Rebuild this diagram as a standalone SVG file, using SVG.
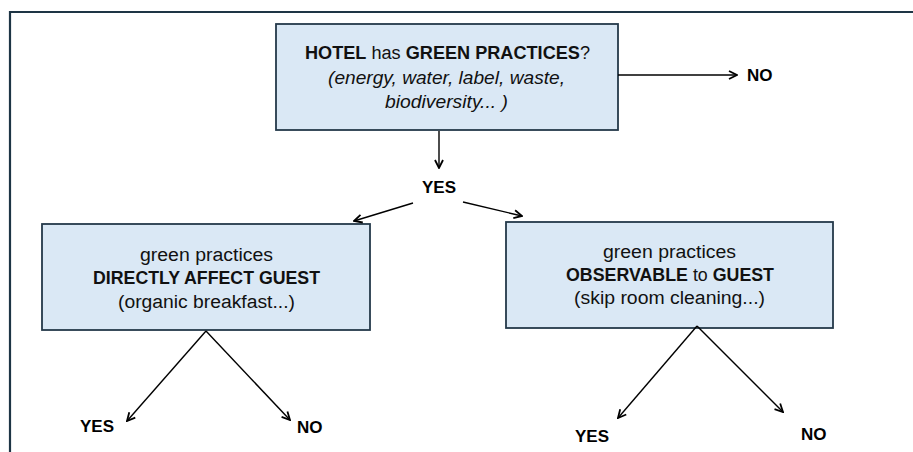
<svg xmlns="http://www.w3.org/2000/svg" width="913" height="452" viewBox="0 0 913 452">
<defs>
<marker id="ah" viewBox="0 0 10 10" refX="9" refY="5" markerWidth="10" markerHeight="10" markerUnits="userSpaceOnUse" orient="auto">
<path d="M1,1 L9,5 L1,9" fill="none" stroke="#000" stroke-width="1.8"/>
</marker>
<style>
.box{fill:#dae8f5;stroke:#24394a;stroke-width:1.8}
.t{font-family:"Liberation Sans",Arial,sans-serif;font-size:18px;fill:#111;text-anchor:middle}
.b{font-weight:bold}
.i{font-style:italic}
.lbl{font-family:"Liberation Sans",Arial,sans-serif;font-size:17px;font-weight:bold;fill:#000}
.c{stroke:#000;stroke-width:1.4;fill:none;marker-end:url(#ah)}
</style>
</defs>
<rect width="913" height="452" fill="#fff"/>
<path d="M10,452 V12 H913" fill="none" stroke="#1e3545" stroke-width="2.2"/>
<g id="n-hotel">
<rect class="box" x="276" y="24" width="342" height="106"/>
<text class="t" x="447.5" y="59" textLength="285" lengthAdjust="spacingAndGlyphs"><tspan class="b">HOTEL</tspan> has <tspan class="b">GREEN PRACTICES</tspan>?</text>
<text class="t i" x="446.5" y="84" textLength="237" lengthAdjust="spacingAndGlyphs">(energy, water, label, waste,</text>
<text class="t i" x="446.5" y="108" textLength="123" lengthAdjust="spacingAndGlyphs">biodiversity... )</text>
</g>
<g id="n-no-top"><text class="lbl" x="747" y="81">NO</text></g>
<g id="n-yes-mid"><text class="lbl" x="439" y="193" text-anchor="middle">YES</text></g>
<g id="n-direct">
<rect class="box" x="42" y="224" width="328" height="106"/>
<text class="t" x="206.5" y="261" textLength="133" lengthAdjust="spacingAndGlyphs">green practices</text>
<text class="t b" x="206.5" y="284" textLength="227" lengthAdjust="spacingAndGlyphs">DIRECTLY AFFECT GUEST</text>
<text class="t" x="206.5" y="308" textLength="177" lengthAdjust="spacingAndGlyphs">(organic breakfast...)</text>
</g>
<g id="n-observe">
<rect class="box" x="506" y="222" width="327" height="106"/>
<text class="t" x="669.5" y="258" textLength="133" lengthAdjust="spacingAndGlyphs">green practices</text>
<text class="t" x="670" y="281" textLength="208" lengthAdjust="spacingAndGlyphs"><tspan class="b">OBSERVABLE</tspan> to <tspan class="b">GUEST</tspan></text>
<text class="t" x="669.5" y="304" textLength="191" lengthAdjust="spacingAndGlyphs">(skip room cleaning...)</text>
</g>
<g id="n-yes-l"><text class="lbl" x="80" y="432">YES</text></g>
<g id="n-no-l"><text class="lbl" x="297" y="433">NO</text></g>
<g id="n-yes-r"><text class="lbl" x="575" y="442">YES</text></g>
<g id="n-no-r"><text class="lbl" x="801" y="440">NO</text></g>
<g id="connectors">
<line class="c" x1="618" y1="75" x2="737" y2="75"/>
<line class="c" x1="439" y1="131" x2="439" y2="168"/>
<line class="c" x1="413" y1="203" x2="354" y2="221"/>
<line class="c" x1="463" y1="202" x2="522" y2="216"/>
<line class="c" x1="206" y1="331" x2="127" y2="421"/>
<line class="c" x1="206" y1="331" x2="290" y2="420"/>
<line class="c" x1="697" y1="326" x2="618" y2="418"/>
<line class="c" x1="697" y1="326" x2="783" y2="412"/>
</g>
</svg>
